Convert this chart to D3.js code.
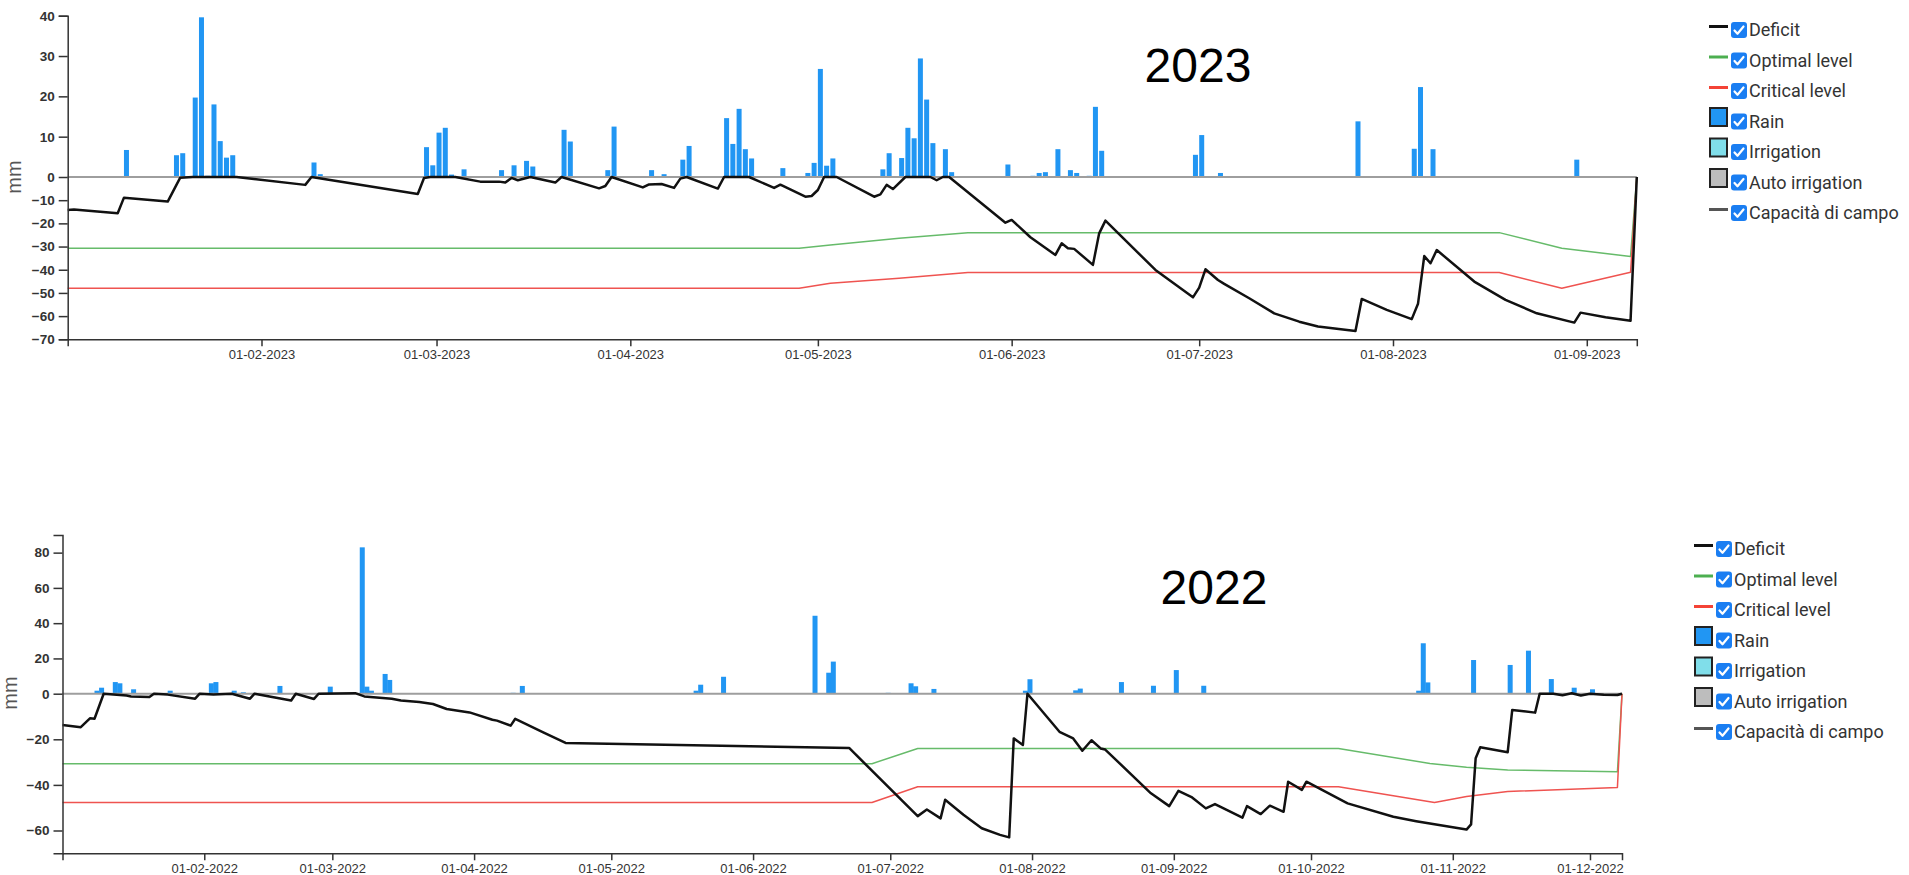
<!DOCTYPE html>
<html>
<head>
<meta charset="utf-8">
<script src="https://cdn.jsdelivr.net/npm/d3@7"></script>
<style>
  body { margin: 0; background: #fff; }
  svg text { font-family: "Liberation Sans", Arial, sans-serif; }
  .legend text { font-family: Roboto, "Noto Sans", sans-serif; }
</style>
</head>
<body>
<svg id="chart" width="1909" height="875"></svg>
<script>
"use strict";

// ---- 2023 ----
var rain2023 = [
    ["01-02", 0.2], ["01-03", 0.2], ["01-07", 0.1], ["01-10", 6.7], ["01-11", 0.2],
    ["01-18", 5.4], ["01-19", 5.9], ["01-21", 19.7], ["01-22", 39.6], ["01-23", 0.3],
    ["01-24", 18.0], ["01-25", 8.9], ["01-26", 4.8], ["01-27", 5.4], ["02-09", 3.6],
    ["02-10", 0.7], ["02-22", 0.1], ["02-27", 7.4], ["02-28", 2.9], ["03-01", 11.0],
    ["03-02", 12.2], ["03-03", 0.6], ["03-05", 1.9], ["03-11", 1.7], ["03-13", 2.9],
    ["03-15", 4.0], ["03-16", 2.6], ["03-21", 11.7], ["03-22", 8.8], ["03-28", 1.7],
    ["03-29", 12.5], ["04-02", 0.2], ["04-04", 1.7], ["04-06", 0.7], ["04-09", 4.3],
    ["04-10", 7.7], ["04-16", 14.6], ["04-17", 8.2], ["04-18", 16.9], ["04-19", 6.9],
    ["04-20", 4.6], ["04-22", 0.1], ["04-25", 2.2], ["04-29", 1.0], ["04-30", 3.5],
    ["05-01", 26.8], ["05-02", 2.8], ["05-03", 4.6], ["05-11", 1.9], ["05-12", 5.9],
    ["05-14", 4.7], ["05-15", 12.2], ["05-16", 9.6], ["05-17", 29.4], ["05-18", 19.2],
    ["05-19", 8.4], ["05-21", 6.9], ["05-22", 1.2], ["05-31", 3.1], ["06-04", 0.3],
    ["06-05", 1.0], ["06-06", 1.2], ["06-08", 6.9], ["06-10", 1.7], ["06-11", 1.0],
    ["06-13", 0.3], ["06-14", 17.4], ["06-15", 6.5], ["06-30", 5.5], ["07-01", 10.4],
    ["07-04", 1.0], ["07-21", 0.1], ["07-26", 13.8], ["08-04", 7.0], ["08-05", 22.3],
    ["08-07", 6.9], ["08-30", 4.3], ["08-31", 0.2]
];

var deficit2023 = [
    ["01-01", -14.2], ["01-02", -14.0], ["01-09", -15.6], ["01-10", -8.9], ["01-17", -10.6],
    ["01-19", -0.3], ["01-21", 0], ["01-28", 0], ["02-08", -3.4], ["02-09", 0],
    ["02-26", -7.3], ["02-27", -0.4], ["02-28", 0], ["03-04", 0], ["03-08", -2.0],
    ["03-11", -2.0], ["03-12", -2.4], ["03-13", -0.4], ["03-14", -1.4], ["03-16", 0],
    ["03-20", -2.4], ["03-21", 0], ["03-27", -4.9], ["03-28", -3.9], ["03-29", 0],
    ["04-03", -4.5], ["04-04", -3.2], ["04-06", -3.0], ["04-08", -4.7], ["04-09", -0.7],
    ["04-10", 0], ["04-15", -5.0], ["04-16", 0], ["04-20", 0], ["04-24", -4.7],
    ["04-25", -3.3], ["04-29", -8.5], ["04-30", -8.2], ["05-01", -5.6], ["05-02", 0],
    ["05-04", 0], ["05-10", -8.5], ["05-11", -7.5], ["05-12", -3.4], ["05-13", -5.2],
    ["05-15", 0], ["05-19", 0], ["05-20", -1.4], ["05-21", 0], ["05-22", 0],
    ["05-31", -19.7], ["06-01", -18.5], ["06-04", -26.0], ["06-08", -33.6], ["06-09", -28.6],
    ["06-10", -30.7], ["06-11", -31.0], ["06-14", -37.9], ["06-15", -24.3], ["06-16", -18.8],
    ["06-24", -40.1], ["06-30", -51.9], ["07-01", -47.7], ["07-02", -39.8], ["07-04", -44.4],
    ["07-05", -46.1], ["07-09", -52.3], ["07-13", -58.8], ["07-17", -62.4], ["07-20", -64.5],
    ["07-26", -66.4], ["07-27", -52.6], ["07-31", -57.3], ["08-04", -61.3], ["08-05", -54.7],
    ["08-06", -34.1], ["08-07", -37.2], ["08-08", -31.5], ["08-14", -45.1], ["08-19", -53.0],
    ["08-24", -58.8], ["08-30", -62.8], ["08-31", -58.5], ["09-04", -60.5], ["09-08", -62.0],
    ["09-09", 0]
];

var optimal2023 = [
    ["01-01", -30.7], ["04-28", -30.7], ["05-03", -29.3], ["05-14", -26.4], ["05-25", -24.0],
    ["08-18", -24.0], ["08-28", -30.7], ["09-08", -34.3], ["09-09", 0]
];

var critical2023 = [
    ["01-01", -48.0], ["04-28", -48.0], ["05-03", -45.8], ["05-14", -43.7], ["05-25", -41.2],
    ["08-18", -41.2], ["08-28", -48.0], ["09-08", -41.1], ["09-09", 0]
];

var capacity2023 = [["01-01", 0], ["09-09", 0]];

var xTicks2023 = ["02-01", "03-01", "04-01", "05-01", "06-01", "07-01", "08-01", "09-01"];
var yTicks2023 = [-70, -60, -50, -40, -30, -20, -10, 0, 10, 20, 30, 40];

// ---- 2022 ----
var rain2022 = [
    ["01-08", 1.7], ["01-09", 3.4], ["01-12", 6.6], ["01-13", 5.9], ["01-16", 2.5],
    ["01-24", 1.7], ["02-02", 5.9], ["02-03", 6.6], ["02-07", 1.7], ["02-09", 0.8],
    ["02-17", 4.4], ["02-28", 4.0], ["03-07", 83.0], ["03-08", 4.0], ["03-09", 1.7],
    ["03-12", 11.2], ["03-13", 7.8], ["04-09", 0.5], ["04-11", 4.4], ["05-19", 1.7],
    ["05-20", 5.1], ["05-25", 9.6], ["06-14", 44.2], ["06-17", 11.9], ["06-18", 18.2],
    ["06-30", 0.5], ["07-05", 5.9], ["07-06", 4.2], ["07-10", 2.7], ["07-30", 1.7],
    ["07-31", 8.2], ["08-10", 1.9], ["08-11", 2.9], ["08-20", 6.6], ["08-27", 4.5],
    ["09-01", 13.4], ["09-07", 4.5], ["10-06", 0.3], ["10-24", 1.7], ["10-25", 28.6],
    ["10-26", 6.4], ["11-05", 19.1], ["11-13", 16.3], ["11-17", 24.4], ["11-22", 8.3],
    ["11-27", 3.4], ["12-01", 2.5]
];

var deficit2022 = [
    ["01-01", -13.7], ["01-05", -14.7], ["01-07", -10.8], ["01-08", -11.0], ["01-10", 0],
    ["01-15", -0.8], ["01-16", -1.2], ["01-20", -1.5], ["01-21", 0], ["01-24", -0.4],
    ["01-30", -2.2], ["01-31", 0], ["02-03", -0.4], ["02-07", 0], ["02-11", -2.2],
    ["02-12", 0], ["02-20", -3.0], ["02-21", 0], ["02-25", -2.3], ["02-26", 0],
    ["03-06", 0.3], ["03-08", -1.2], ["03-14", -2.2], ["03-16", -3.0], ["03-20", -3.6],
    ["03-23", -4.5], ["03-26", -6.7], ["03-31", -8.2], ["04-05", -11.4], ["04-06", -11.8],
    ["04-09", -14.0], ["04-10", -11.0], ["04-16", -16.8], ["04-21", -21.6], ["06-22", -23.8],
    ["07-07", -53.7], ["07-09", -50.8], ["07-12", -54.7], ["07-13", -46.5], ["07-17", -53.1],
    ["07-21", -59.0], ["07-25", -61.9], ["07-27", -63.0], ["07-28", -19.6], ["07-30", -22.5],
    ["07-31", 0], ["08-07", -16.7], ["08-10", -19.6], ["08-12", -25.0], ["08-14", -20.4],
    ["08-16", -24.0], ["08-17", -24.5], ["08-27", -43.7], ["08-31", -49.3], ["09-02", -42.6],
    ["09-05", -45.5], ["09-08", -50.3], ["09-10", -48.4], ["09-16", -54.4], ["09-17", -49.3],
    ["09-20", -52.8], ["09-22", -49.1], ["09-25", -51.8], ["09-26", -38.6], ["09-29", -42.2],
    ["09-30", -38.6], ["10-09", -48.1], ["10-19", -54.0], ["10-24", -55.9], ["11-04", -59.6],
    ["11-05", -57.3], ["11-06", -28.3], ["11-07", -23.5], ["11-13", -25.7], ["11-14", -7.1],
    ["11-19", -8.3], ["11-20", 0], ["11-23", 0], ["11-25", -0.7], ["11-27", 0.3],
    ["11-29", -0.8], ["12-01", 0], ["12-04", -0.5], ["12-07", -0.6], ["12-08", 0]
];

var optimal2022 = [
    ["01-01", -30.7], ["06-27", -30.7], ["07-07", -24.0], ["10-07", -24.0], ["10-27", -30.6],
    ["11-04", -32.3], ["11-13", -33.5], ["12-07", -34.2], ["12-08", 0]
];

var critical2022 = [
    ["01-01", -47.7], ["06-27", -47.7], ["07-07", -40.8], ["10-07", -40.8], ["10-28", -47.7],
    ["11-04", -45.1], ["11-13", -42.9], ["12-07", -41.1], ["12-08", 0]
];

var capacity2022 = [["01-01", 0], ["12-08", 0]];

var xTicks2022 = ["02-01", "03-01", "04-01", "05-01", "06-01", "07-01", "08-01",
                  "09-01", "10-01", "11-01", "12-01"];
var yTicks2022 = [-60, -40, -20, 0, 20, 40, 60, 80];

var legendLabels = ["Deficit", "Optimal level", "Critical level", "Rain",
                    "Irrigation", "Auto irrigation", "Capacità di campo"];
var legendKinds = ["line", "line", "line", "box", "box", "box", "line"];
var legendColors = ["#111111", "#4caf50", "#f44336", "#2196f3", "#80deea", "#bdbdbd", "#555555"];

// ---- drawing ----
var svg = d3.select("#chart");
var parseDay = d3.timeParse("%Y-%m-%d");

function drawPanel(p) {
    var day = function(s) { return parseDay(p.year + "-" + s); };

    var x = d3.scaleTime()
        .domain([day(p.start), day(p.end)])
        .range(p.xRange);
    var y = d3.scaleLinear()
        .domain([-70, 0, p.yMax])
        .range(p.yRange);

    var g = svg.append("g");

    // rain bars
    g.append("g").selectAll("rect")
        .data(p.rain)
        .join("rect")
            .attr("x", function(d) { return x(day(d[0])); })
            .attr("y", function(d) { return y(d[1]); })
            .attr("width", 5)
            .attr("height", function(d) { return y(0) - y(d[1]); })
            .attr("fill", "#2196f3");

    var line = d3.line()
        .x(function(d) { return x(day(d[0])); })
        .y(function(d) { return y(d[1]); });

    var series = [
        {data: p.capacity, color: "#9e9e9e", width: 2},
        {data: p.optimal, color: "#66bb6a", width: 1.5},
        {data: p.critical, color: "#ef5350", width: 1.5},
        {data: p.deficit, color: "#111111", width: 2.5}
    ];
    series.forEach(function(s) {
        g.append("path")
            .datum(s.data)
            .attr("fill", "none")
            .attr("stroke", s.color)
            .attr("stroke-width", s.width)
            .attr("stroke-linejoin", "round")
            .attr("d", line);
    });

    // axes
    var xAxis = g.append("g")
        .attr("transform", "translate(0," + p.yRange[0] + ")")
        .call(d3.axisBottom(x)
            .tickValues(p.xTicks.map(day))
            .tickFormat(d3.timeFormat("%d-%m-%Y"))
            .tickSize(7).tickPadding(3));
    xAxis.selectAll("text").attr("font-size", 13).attr("fill", "#333");

    var yAxis = g.append("g")
        .attr("transform", "translate(" + p.xRange[0] + ",0)")
        .call(d3.axisLeft(y).tickValues(p.yTicks).tickSize(9).tickPadding(4));
    yAxis.selectAll("text").attr("font-size", 13.5).attr("font-weight", "bold").attr("fill", "#333");

    [xAxis, yAxis].forEach(function(a) {
        a.attr("font-family", null);
        a.selectAll("path, line").attr("stroke", "#333").attr("stroke-width", 1.5);
    });

    g.append("text")
        .attr("transform", "translate(" + p.yLabel[0] + "," + p.yLabel[1] + ") rotate(-90)")
        .attr("text-anchor", "middle")
        .attr("dy", "0.35em")
        .attr("font-size", 20)
        .attr("fill", "#555")
        .text("mm");

    g.append("text")
        .attr("x", p.title[0]).attr("y", p.title[1])
        .attr("text-anchor", "middle")
        .attr("font-size", 48)
        .attr("fill", "#000")
        .text(p.year);

    // legend
    var lg = svg.append("g").attr("class", "legend")
        .attr("transform", "translate(" + p.legend[0] + "," + p.legend[1] + ")");
    var rows = lg.selectAll("g")
        .data(legendLabels)
        .join("g")
            .attr("transform", function(d, i) { return "translate(0," + (i * 30.5) + ")"; });

    rows.each(function(d, i) {
        var row = d3.select(this);
        if (legendKinds[i] === "line") {
            row.append("line")
                .attr("x1", 0).attr("x2", 19)
                .attr("y1", -3.5).attr("y2", -3.5)
                .attr("stroke", legendColors[i])
                .attr("stroke-width", 3);
        } else {
            row.append("rect")
                .attr("x", 1).attr("y", -13.5)
                .attr("width", 17).attr("height", 18)
                .attr("fill", legendColors[i])
                .attr("stroke", "#222")
                .attr("stroke-width", 2);
        }
        row.append("rect")
            .attr("x", 22).attr("y", -8)
            .attr("width", 16).attr("height", 16)
            .attr("rx", 3)
            .attr("fill", "#1a7ef2");
        row.append("path")
            .attr("d", "M25.5,0.5 L28.5,3.8 L34.5,-3.5")
            .attr("fill", "none")
            .attr("stroke", "#fff")
            .attr("stroke-width", 2.2)
            .attr("stroke-linecap", "round")
            .attr("stroke-linejoin", "round");
        row.append("text")
            .attr("x", 40)
            .attr("dy", "0.36em")
            .attr("font-size", 18)
            .attr("fill", "#333")
            .text(d);
    });
}

drawPanel({
    year: "2023", start: "01-01", end: "09-09",
    xRange: [67.7, 1636.8], yMax: 40, yRange: [339.3, 177, 15.7],
    rain: rain2023, deficit: deficit2023, optimal: optimal2023,
    critical: critical2023, capacity: capacity2023,
    xTicks: xTicks2023, yTicks: yTicks2023,
    yLabel: [14, 177], title: [1198, 82], legend: [1709, 30]
});

drawPanel({
    year: "2022", start: "01-01", end: "12-08",
    xRange: [62.5, 1622], yMax: 90, yRange: [853.3, 693.7, 535],
    rain: rain2022, deficit: deficit2022, optimal: optimal2022,
    critical: critical2022, capacity: capacity2022,
    xTicks: xTicks2022, yTicks: yTicks2022,
    yLabel: [9.5, 693], title: [1214, 604], legend: [1694, 549]
});
</script>
</body>
</html>
